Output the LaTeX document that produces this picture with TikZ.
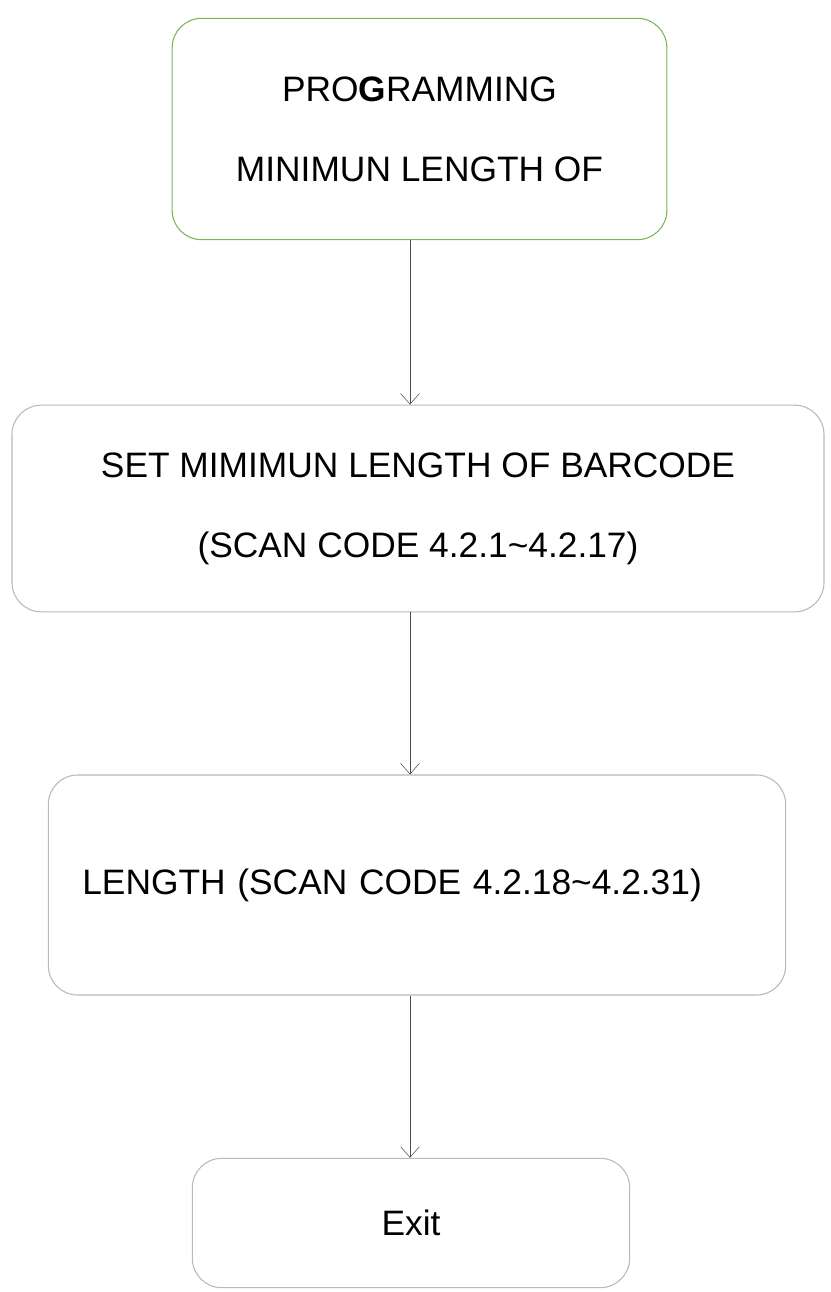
\documentclass[tikz,border=0pt]{standalone}
\usepackage{fontspec}
\setmainfont{Liberation Sans}
\usetikzlibrary{positioning}
\usetikzlibrary{arrows.meta}
\definecolor{boxgreen}{RGB}{125,180,85}
\definecolor{boxgray}{RGB}{185,185,185}
\tikzset{
	flowbox/.style={draw=boxgray, thick, rounded corners=22pt, align=center, font=\fontsize{26.5}{60}\selectfont, inner sep=0pt},
	link/.style={->, thin, draw=black!70, >={Straight Barb[length=8pt,width=14pt]}}
}
\begin{document}
\begin{tikzpicture}[x=0.75pt,y=-0.75pt]
	\useasboundingbox (0,0) rectangle (831,1292);
	\coordinate (ax) at (410,0);
	
	\node[flowbox, draw=boxgreen, minimum width=371pt, minimum height=166pt] (prog) at (419.5,129) {PRO\textbf{G}RAMMING\\MINIMUN LENGTH OF};
	\node[flowbox, minimum width=609pt, minimum height=155pt] (setmin) at (418,508.5) {SET MIMIMUN LENGTH OF BARCODE\\(SCAN CODE 4.2.1\textasciitilde4.2.17)};
	\node[flowbox, minimum width=553pt, minimum height=165pt, text width=502pt, align=left] (len) at (417,885) {LENGTH (SCAN CODE 4.2.18\textasciitilde4.2.31)};
	\node[flowbox, minimum width=328pt, minimum height=97pt] (exit) at (411,1223) {Exit};
	
	\draw[link] (prog.south -| ax) -- (setmin.north -| ax);
	\draw[link] (setmin.south -| ax) -- (len.north -| ax);
	\draw[link] (len.south -| ax) -- (exit.north -| ax);
\end{tikzpicture}
\end{document}
